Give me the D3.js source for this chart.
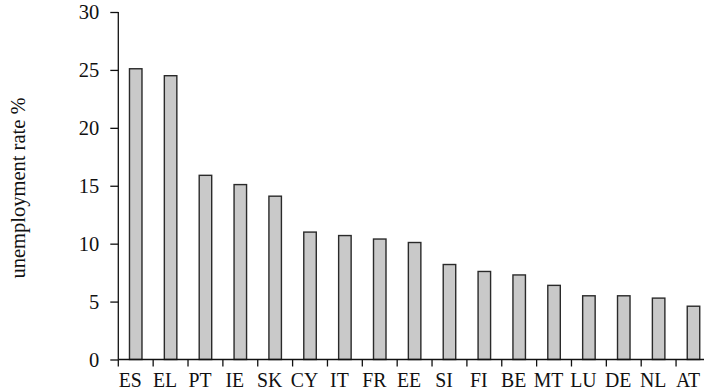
<!DOCTYPE html>
<html>
<head>
<meta charset="utf-8">
<script src="https://cdn.jsdelivr.net/npm/d3@7"></script>
<style>
  html, body { margin: 0; padding: 0; background: #fff; }
  svg { display: block; }
  text { font-family: "Liberation Serif", "Times New Roman", serif; fill: #111; }
</style>
</head>
<body>
<svg id="chart" width="704" height="392"></svg>
<script>
const categories = ["ES","EL","PT","IE","SK","CY","IT","FR","EE","SI","FI","BE","MT","LU","DE","NL","AT"];
const values = [25.1, 24.5, 15.9, 15.1, 14.1, 11.0, 10.7, 10.4, 10.1, 8.2, 7.6, 7.3, 6.4, 5.5, 5.5, 5.3, 4.6];
const yTicks = [0, 5, 10, 15, 20, 25, 30];
const yLabel = "unemployment rate %";

const svg = d3.select("#chart");
const x0 = 118.3, step = 34.86;
const x = d3.scaleBand().domain(categories).range([x0, x0 + step * categories.length]).padding(0);
const y = d3.scaleLinear().domain([0, 30]).range([359.5, 12]);

const barW = 12.5;
svg.append("g").selectAll("rect").data(values).join("rect")
  .attr("x", (d, i) => x(categories[i]) + x.bandwidth() / 2 - barW / 2)
  .attr("y", d => y(d))
  .attr("width", barW)
  .attr("height", d => y(0) - y(d))
  .attr("fill", "#c9c9c9")
  .attr("stroke", "#2a2a2a")
  .attr("stroke-width", 1.4);

// y axis
const yAxis = svg.append("g").attr("transform", `translate(${x0},0)`)
  .call(d3.axisLeft(y).tickValues(yTicks).tickSize(8).tickPadding(11).tickFormat(d3.format("d")));
yAxis.attr("font-family", null).attr("font-size", null);
yAxis.select(".domain").attr("d", `M0,${y(30)}V${y(0)}`).attr("stroke", "#111").attr("stroke-width", 1.3);
yAxis.selectAll(".tick line").attr("stroke", "#111").attr("stroke-width", 1.3);
yAxis.selectAll("text").attr("font-family", "Liberation Serif").attr("font-size", 20.5).attr("fill", "#111");

// x axis: labels under bands, ticks at band boundaries
const xAxis = svg.append("g").attr("transform", `translate(0,${y(0)})`)
  .call(d3.axisBottom(x).tickSize(0).tickPadding(12));
xAxis.attr("font-family", null).attr("font-size", null);
xAxis.select(".domain").attr("d", `M${x0},0H${x0 + step * categories.length}`).attr("stroke", "#111").attr("stroke-width", 1.3);
xAxis.selectAll(".tick text")
  .attr("font-family", "Liberation Serif").attr("font-size", 22).attr("fill", "#111")
  .attr("transform", "translate(-5.5,0) scale(0.9,1)");
const bounds = categories.map(c => x(c)).concat([x.range()[1]]);
xAxis.append("g").selectAll("line").data(bounds).join("line")
  .attr("x1", d => d).attr("x2", d => d).attr("y1", 0).attr("y2", 7)
  .attr("stroke", "#111").attr("stroke-width", 1.3);

// y label
svg.append("text")
  .attr("transform", `translate(24.5,188) rotate(-90)`)
  .attr("text-anchor", "middle")
  .attr("font-family", "Liberation Serif")
  .attr("font-size", 20.5)
  .text(yLabel);
</script>
</body>
</html>
